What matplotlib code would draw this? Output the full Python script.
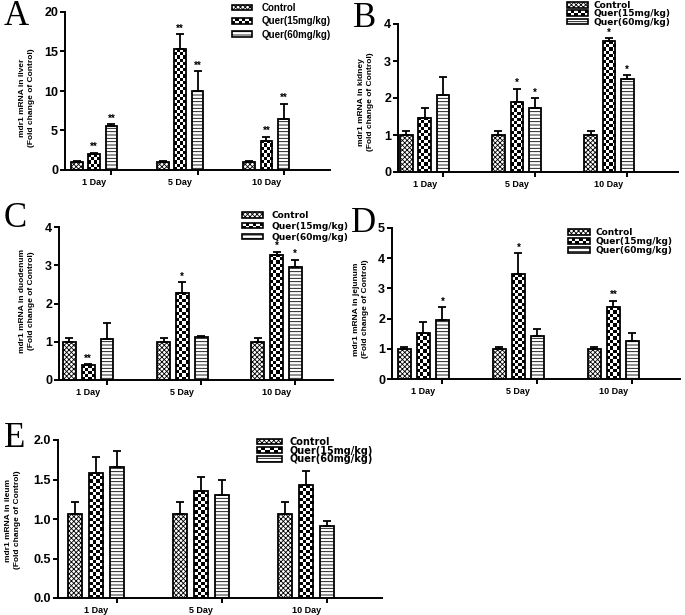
import numpy as np
import matplotlib
matplotlib.use('Agg')
import matplotlib.pyplot as plt
from matplotlib.patches import Rectangle
from matplotlib.legend_handler import HandlerBase

plt.rcParams['font.family'] = ['Liberation Sans', 'DejaVu Sans']
plt.rcParams['hatch.linewidth'] = 0.6

days = ['1 Day', '5 Day', '10 Day']
series = ['Control', 'Quer(15mg/kg)', 'Quer(60mg/kg)']

# Panel A - liver
a_ctrl = [1.0, 1.0, 1.0]
a_ctrl_err = [0.08, 0.08, 0.08]
a_q15 = [2.0, 15.3, 3.7]
a_q15_err = [0.15, 1.9, 0.5]
a_q60 = [5.6, 10.0, 6.5]
a_q60_err = [0.2, 2.5, 1.9]
a_sig15 = ['**', '**', '**']
a_sig60 = ['**', '**', '**']
a_yticks = [0, 5, 10, 15, 20]

# Panel B - kidney
b_ctrl = [1.0, 1.0, 1.0]
b_ctrl_err = [0.1, 0.1, 0.1]
b_q15 = [1.47, 1.88, 3.53]
b_q15_err = [0.27, 0.37, 0.08]
b_q60 = [2.08, 1.73, 2.52]
b_q60_err = [0.5, 0.26, 0.1]
b_sig15 = ['', '*', '*']
b_sig60 = ['', '*', '*']
b_yticks = [0, 1, 2, 3, 4]

# Panel C - duodenum
c_ctrl = [1.0, 1.0, 1.0]
c_ctrl_err = [0.1, 0.1, 0.1]
c_q15 = [0.38, 2.28, 3.27]
c_q15_err = [0.03, 0.28, 0.08]
c_q60 = [1.07, 1.13, 2.95]
c_q60_err = [0.43, 0.03, 0.2]
c_sig15 = ['**', '*', '*']
c_sig60 = ['', '', '*']
c_yticks = [0, 1, 2, 3, 4]

# Panel D - jejunum
d_ctrl = [1.0, 1.0, 1.0]
d_ctrl_err = [0.07, 0.07, 0.07]
d_q15 = [1.52, 3.47, 2.37]
d_q15_err = [0.38, 0.7, 0.22]
d_q60 = [1.95, 1.43, 1.25]
d_q60_err = [0.43, 0.22, 0.28]
d_sig15 = ['', '*', '**']
d_sig60 = ['*', '', '']
d_yticks = [0, 1, 2, 3, 4, 5]

# Panel E - ileum
e_ctrl = [1.06, 1.06, 1.06]
e_ctrl_err = [0.15, 0.15, 0.15]
e_q15 = [1.58, 1.35, 1.43]
e_q15_err = [0.2, 0.18, 0.18]
e_q60 = [1.66, 1.30, 0.91]
e_q60_err = [0.2, 0.19, 0.06]
e_sig15 = ['', '', '']
e_sig60 = ['', '', '']
e_yticks = [0.0, 0.5, 1.0, 1.5, 2.0]
e_yticklabels = ['0.0', '0.5', '1.0', '1.5', '2.0']

W, H = 685, 615
fig = plt.figure(figsize=(W / 100, H / 100), dpi=100)


def px_rect(left, top, right, bottom):
    return [left / W, 1 - bottom / H, (right - left) / W, (bottom - top) / H]


class CheckerHandler(HandlerBase):
    def create_artists(self, legend, orig_handle, xdescent, ydescent,
                       width, height, fontsize, trans):
        arts = []
        n, m = 6, 2
        cw, ch = width / n, height / m
        for i in range(m):
            for j in range(n):
                col = 'black' if (i + j) % 2 == 0 else 'white'
                arts.append(Rectangle((-xdescent + j * cw, -ydescent + i * ch), cw, ch,
                                      facecolor=col, edgecolor='none', transform=trans))
        arts.append(Rectangle((-xdescent, -ydescent), width, height, facecolor='none',
                              edgecolor='black', lw=1.2, transform=trans))
        return arts


CTRL_HATCH = 'xxxxxxx'
Q60_HATCH = '-----'


def panel(rect, xlim, ylim, yticks, yticklabels, ctrl, ctrl_err, q15, q15_err,
          q60, q60_err, sig15, sig60, ylabel, letter, letter_xy, ylabel_xy, leg_xy,
          leg_font, leg_size, leg_spacing, handle_px, gap_px):
    ax = fig.add_axes(px_rect(*rect))
    ax.set_xlim(*xlim)
    ax.set_ylim(*ylim)
    ax.set_autoscale_on(False)
    x = np.arange(len(days))
    off, bw = 0.2, 0.135
    lw = 1.3
    ax.bar(x - off, ctrl, bw, facecolor='white', edgecolor='black', linewidth=lw,
           hatch=CTRL_HATCH, zorder=2)
    b15 = ax.bar(x, q15, bw, facecolor='none', edgecolor='black', linewidth=lw, zorder=2)
    ax.bar(x + off, q60, bw, facecolor='white', edgecolor='black', linewidth=lw,
           hatch=Q60_HATCH, zorder=2)
    # checkerboard fill for Quer(15mg/kg)
    bb = ax.get_position()
    ppx = bb.width * W / (xlim[1] - xlim[0])
    ppy = bb.height * H / (ylim[1] - ylim[0])
    cell = 3.2
    for r in b15.patches:
        bx, w, h = r.get_x(), r.get_width(), r.get_height()
        nc = max(1, int(round(w * ppx / cell)))
        nr = max(1, int(round(h * ppy / cell)))
        arr = np.add.outer(np.arange(nr), np.arange(nc)) % 2
        ax.imshow(arr, cmap='gray', vmin=0, vmax=1, extent=(bx, bx + w, 0, h),
                  origin='lower', aspect='auto', interpolation='nearest', zorder=1)
    for xs, vals, errs in [(x - off, ctrl, ctrl_err), (x, q15, q15_err), (x + off, q60, q60_err)]:
        ax.errorbar(xs, vals, yerr=[np.zeros(len(vals)), errs], fmt='none', ecolor='black',
                    elinewidth=1.3, capsize=2.6, capthick=1.3, zorder=3)
    for xs, vals, errs, sigs in [(x, q15, q15_err, sig15), (x + off, q60, q60_err, sig60)]:
        for xi, v, e, s in zip(xs, vals, errs, sigs):
            if s:
                ax.annotate(s, (xi, v + e), xytext=(0, 0.5), textcoords='offset points',
                            ha='center', va='bottom', fontsize=7, fontweight='bold')
    ax.set_ylim(*ylim)
    ax.set_xlim(*xlim)
    for s in ['top', 'right']:
        ax.spines[s].set_visible(False)
    for s in ['left', 'bottom']:
        ax.spines[s].set_linewidth(1.4)
    ax.set_yticks(yticks)
    ax.set_yticklabels(yticklabels, fontsize=9, fontweight='bold')
    ax.tick_params(axis='y', direction='out', length=3.5, width=1.4, pad=1.5)
    ax.set_xticks(x)
    ax.set_xticklabels(days, fontsize=6.5, fontweight='bold')
    ax.tick_params(axis='x', which='major', length=0, pad=6)
    ax.set_xticks(x + off, minor=True)
    ax.tick_params(axis='x', which='minor', direction='out', length=3.5, width=1.4)
    fig.text(ylabel_xy[0] / W, 1 - ylabel_xy[1] / H, ylabel, rotation=90, ha='center',
             va='center', fontsize=6, fontweight='bold', linespacing=1.25,
             multialignment='center')
    fig.text(letter_xy[0] / W, 1 - letter_xy[1] / H, letter, ha='left', va='top',
             fontsize=25, family='Liberation Serif')
    handles = [Rectangle((0, 0), 1, 1, facecolor='white', edgecolor='black', hatch=CTRL_HATCH, lw=1.2),
               Rectangle((0, 0), 1, 1, facecolor='black', edgecolor='black', lw=1.2),
               Rectangle((0, 0), 1, 1, facecolor='white', edgecolor='black', hatch=Q60_HATCH, lw=1.2)]
    fpx = leg_size / 0.72
    fig.legend(handles, series, loc='upper left',
               bbox_to_anchor=(leg_xy[0] / W, 1 - leg_xy[1] / H),
               bbox_transform=fig.transFigure, frameon=False, borderpad=0,
               borderaxespad=0, handlelength=handle_px / fpx, handleheight=0.55,
               handletextpad=gap_px / fpx, labelspacing=leg_spacing,
               prop={'size': leg_size, 'weight': 'bold', 'family': leg_font},
               handler_map={handles[1]: CheckerHandler()})
    return ax


panel((65, 12, 330, 170), (-0.34, 2.74), (0, 20), a_yticks, [str(v) for v in a_yticks],
      a_ctrl, a_ctrl_err, a_q15, a_q15_err, a_q60, a_q60_err, a_sig15, a_sig60,
      'mdr1 mRNA in liver\n(Fold change of Control)', 'A', (4, 0), (27, 98), (232, 3),
      'Liberation Sans', 7, 0.35, 20, 10)

panel((398, 24, 678, 172), (-0.29, 2.75), (0, 4), b_yticks, [str(v) for v in b_yticks],
      b_ctrl, b_ctrl_err, b_q15, b_q15_err, b_q60, b_q60_err, b_sig15, b_sig60,
      'mdr1 mRNA in kidney\n(Fold change of Control)', 'B', (353, 2), (366, 102), (567, 1),
      'DejaVu Sans', 6.5, -0.08, 21, 6)

panel((59, 227, 333, 380), (-0.31, 2.6), (0, 4), c_yticks, [str(v) for v in c_yticks],
      c_ctrl, c_ctrl_err, c_q15, c_q15_err, c_q60, c_q60_err, c_sig15, c_sig60,
      'mdr1 mRNA in duodenum\n(Fold change of Control)', 'C', (4, 202), (27, 301), (242, 211),
      'DejaVu Sans', 6.5, 0.2, 21, 9)

panel((392, 228, 680, 379), (-0.33, 2.7), (0, 5), d_yticks, [str(v) for v in d_yticks],
      d_ctrl, d_ctrl_err, d_q15, d_q15_err, d_q60, d_q60_err, d_sig15, d_sig60,
      'mdr1 mRNA in jejunum\n(Fold change of Control)', 'D', (351, 207), (361, 309), (568, 228),
      'DejaVu Sans', 6.5, 0.02, 22, 6)

panel((58, 440, 382, 598), (-0.36, 2.72), (0, 2.0), e_yticks, e_yticklabels,
      e_ctrl, e_ctrl_err, e_q15, e_q15_err, e_q60, e_q60_err, e_sig15, e_sig60,
      'mdr1 mRNA in ileum\n(Fold change of Control)', 'E', (4, 422), (13, 520), (257, 437),
      'DejaVu Sans', 7, -0.15, 25, 8)

fig.savefig('out.png', dpi=100)
